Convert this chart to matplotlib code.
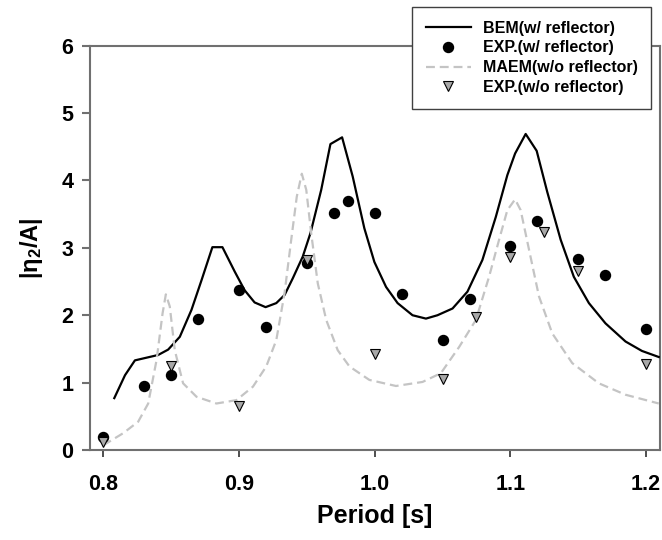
import matplotlib
matplotlib.use("Agg")
import matplotlib.pyplot as plt

# ---- data ----
bem_x = [0.8081, 0.8160, 0.8233, 0.8404, 0.8478, 0.8564, 0.8650, 0.8724, 0.8804, 0.8878,
         0.8968, 0.9042, 0.9115, 0.9196, 0.9275, 0.9336, 0.9397, 0.9470, 0.9527, 0.9606,
         0.9674, 0.9760, 0.9838, 0.9924, 0.9998, 1.0084, 1.0169, 1.0279, 1.0378, 1.0463,
         1.0574, 1.0684, 1.0794, 1.0893, 1.0978, 1.1035, 1.1113, 1.1194, 1.1272, 1.1371,
         1.1468, 1.1579, 1.1701, 1.1849, 1.1970, 1.2094]
bem_y = [0.77, 1.11, 1.33, 1.41, 1.49, 1.68, 2.08, 2.52, 3.01, 3.01,
         2.65, 2.37, 2.19, 2.12, 2.18, 2.30, 2.55, 2.87, 3.22, 3.86,
         4.54, 4.64, 4.06, 3.29, 2.79, 2.42, 2.18, 2.00, 1.95, 2.00,
         2.10, 2.35, 2.82, 3.46, 4.08, 4.40, 4.69, 4.44, 3.83, 3.12,
         2.57, 2.18, 1.88, 1.61, 1.47, 1.38]

maem_x = [0.8000, 0.8147, 0.8257, 0.8331, 0.8393, 0.8437, 0.8461, 0.8490, 0.8527, 0.8588,
          0.8687, 0.8834, 0.8981, 0.9103, 0.9201, 0.9275, 0.9336, 0.9385, 0.9426, 0.9463,
          0.9496, 0.9532, 0.9581, 0.9643, 0.9728, 0.9814, 0.9961, 1.0157, 1.0353, 1.0488,
          1.0623, 1.0746, 1.0843, 1.0917, 1.0978, 1.1035, 1.1076, 1.1138, 1.1211, 1.1309,
          1.1456, 1.1652, 1.1849, 1.2094]
maem_y = [0.07, 0.25, 0.42, 0.69, 1.34, 2.03, 2.31, 2.13, 1.48, 0.99,
          0.79, 0.69, 0.74, 0.94, 1.24, 1.63, 2.33, 3.12, 3.76, 4.10,
          3.86, 3.22, 2.47, 1.93, 1.48, 1.24, 1.04, 0.95, 1.01, 1.14,
          1.53, 1.93, 2.57, 3.12, 3.56, 3.72, 3.56, 2.97, 2.28, 1.73,
          1.29, 0.99, 0.82, 0.69]

exp_w_x = [0.80, 0.83, 0.85, 0.87, 0.90, 0.92, 0.95, 0.97, 0.98, 1.00,
           1.02, 1.05, 1.07, 1.10, 1.12, 1.15, 1.17, 1.20]
exp_w_y = [0.20, 0.95, 1.12, 1.94, 2.37, 1.83, 2.77, 3.52, 3.70, 3.51,
           2.31, 1.63, 2.24, 3.03, 3.40, 2.83, 2.60, 1.80]

exp_wo_x = [0.80, 0.85, 0.90, 0.95, 1.00, 1.05, 1.075, 1.10, 1.125, 1.15, 1.20]
exp_wo_y = [0.12, 1.24, 0.65, 2.82, 1.43, 1.05, 1.97, 2.87, 3.23, 2.65, 1.27]

x_ticks = [0.8, 0.9, 1.0, 1.1, 1.2]
x_ticklabels = ["0.8", "0.9", "1.0", "1.1", "1.2"]
y_ticks = [0, 1, 2, 3, 4, 5, 6]

# ---- styling ----
plt.rcParams['font.family'] = ['Liberation Sans', 'DejaVu Sans']
plt.rcParams['font.weight'] = 'bold'
plt.rcParams['mathtext.default'] = 'regular'

fig = plt.figure(figsize=(6.62, 5.40), dpi=100)
ax = fig.add_axes([90/662, 1-450/540, 570/662, (450-45.7)/540])

spine_col = '#707070'
ax.plot(bem_x, bem_y, color='black', lw=1.6, label='BEM(w/ reflector)', zorder=3)
ax.plot(exp_w_x, exp_w_y, 'o', color='black', ms=7.2, label='EXP.(w/ reflector)', zorder=4)
ax.plot(maem_x, maem_y, color='#c4c4c4', lw=1.6, ls=(0, (4, 2.2)), label='MAEM(w/o reflector)', zorder=3)
ax.plot(exp_wo_x, exp_wo_y, 'v', mfc='#a8a8a8', mec='black', mew=0.8, ms=7.5,
        label='EXP.(w/o reflector)', zorder=5, ls='none')

ax.set_xlim(0.7902, 1.2103)
ax.set_ylim(0, 6)
ax.set_xticks(x_ticks)
ax.set_xticklabels(x_ticklabels)
ax.set_yticks(y_ticks)

for s in ax.spines.values():
    s.set_color(spine_col)
    s.set_linewidth(1.5)

ax.tick_params(axis='x', direction='out', length=5, width=1.2, color='#303030',
               labelsize=15.5, pad=12)
ax.tick_params(axis='y', direction='out', length=6, width=1.5, color=spine_col,
               labelsize=15.5, pad=6)
for lab in ax.get_xticklabels() + ax.get_yticklabels():
    lab.set_fontweight('bold')

ax.set_xlabel('Period [s]', fontsize=18, fontweight='bold', labelpad=7)
ax.set_ylabel(r'|η$_2$/A|', fontsize=17, fontweight='bold', labelpad=12)

leg = ax.legend(loc='upper right', bbox_to_anchor=(651/662, 1-7/540),
                bbox_transform=fig.transFigure, fontsize=11.5, frameon=True,
                fancybox=False, framealpha=1, edgecolor='#404040',
                handlelength=2.8, handletextpad=0.75, labelspacing=0.3,
                borderpad=0.85, borderaxespad=0)
leg.get_frame().set_linewidth(1.0)
for t in leg.get_texts():
    t.set_fontweight('bold')

fig.savefig('out.png', dpi=100)
